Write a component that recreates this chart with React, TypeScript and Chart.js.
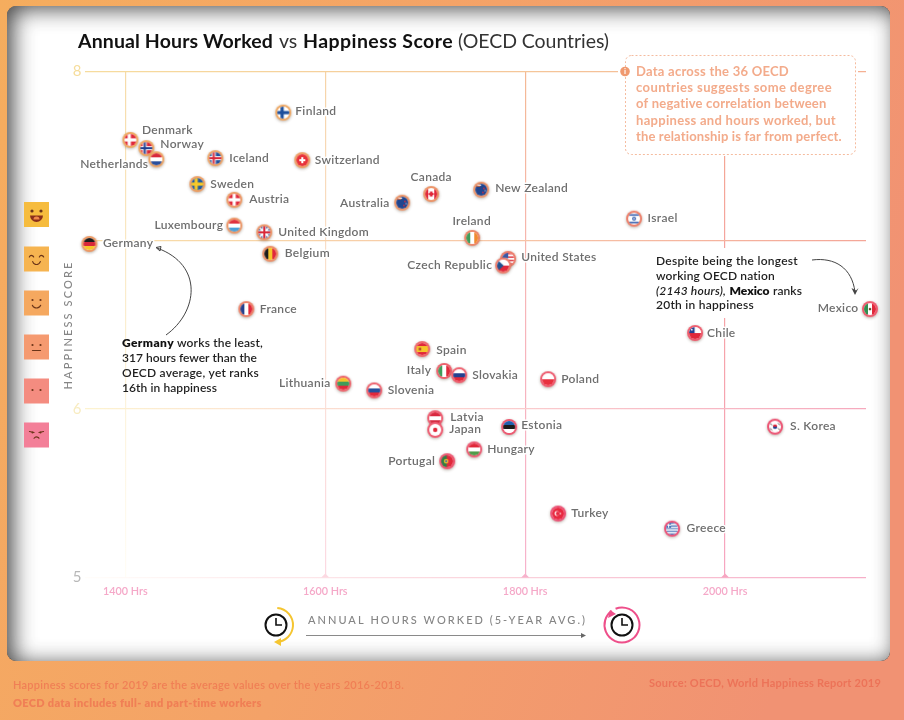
import React, { useEffect, useRef } from "react";
import { Chart, registerables } from "chart.js";

Chart.register(...registerables);

const countries = ["Finland","Denmark","Norway","Netherlands","Iceland","Switzerland","Sweden","Austria","Canada","Australia","New Zealand","Israel","Ireland","Luxembourg","United Kingdom","Germany","Belgium","United States","Czech Republic","France","Spain","Italy","Slovakia","Poland","Lithuania","Slovenia","Latvia","Japan","Estonia","Hungary","Portugal","S. Korea","Turkey","Greece","Mexico","Chile"];
const hoursWorked = [1558,1405,1421,1431,1490,1577,1472,1509,1706,1677,1756,1909,1747,1509,1539,1364,1545,1783,1778,1521,1697,1719,1734,1823,1618,1649,1710,1710,1784,1749,1722,2050,1833,1947,2145,1970];
const happiness = [7.757,7.595,7.546,7.48,7.487,7.475,7.333,7.24,7.274,7.223,7.3,7.128,7.014,7.087,7.047,6.978,6.92,6.89,6.85,6.592,6.355,6.225,6.2,6.176,6.15,6.11,5.945,5.876,5.893,5.76,5.69,5.895,5.38,5.29,6.592,6.45];
// label placement relative to the marker: [align, dx, dy]
const labelPlacement: [CanvasTextAlign, number, number][] = [
  ["left",12,-1],["left",11.5,-9.5],["left",14,-4],["right",-8,5],["left",14,0],["left",12.5,0],["left",13,0],["left",15,0],["center",0,-16.5],["right",-12.7,0.5],["left",14,-1],["left",13.5,0],["center",-0.5,-16],["right",-11,0],["left",14,0],["left",13.5,-0.5],["left",14.5,0],["left",13,-1],["right",-11,0],["left",13.5,0.5],["left",14,1],["right",-13,0],["left",13,0],["left",13,0],["right",-12.7,0],["left",13.5,0],["left",15,-1],["left",14,0],["left",12,-1.5],["left",13,0],["right",-12,0],["left",15,0],["left",13,0],["left",14.5,0],["right",-11.5,-1],["left",12,0]
];
const xTicks = [1400, 1600, 1800, 2000];
const yTicks = [5, 6, 7, 8];
const faceColors = ["#f6bc3e","#f6b450","#f5a85f","#f59a70","#f48c80","#f37f98"];
const faceCentres = [214.5, 259, 303, 347, 391, 435];
const calloutLines = ["Data across the 36 OECD","countries suggests some degree","of negative correlation between","happiness and hours worked, but","the relationship is far from perfect."];

const W = "#fff";
const flagSpec: Record<string, string[]> = {
  Finland:["nordic",W,"#1d4f9c"], Denmark:["nordic","#e0283a",W], Norway:["nordic2","#d8283a",W,"#1f3f8f"], Netherlands:["h","#d8283a",W,"#2a4f9c"], Iceland:["nordic2","#22509c",W,"#d8283a"], Switzerland:["swiss","#e8323a",W], Sweden:["nordic","#1f5a9f","#f7c92a"], Austria:["h2","#e0283a",W], Canada:["canada"], Australia:["aus"], "New Zealand":["aus"], Israel:["israel"], Ireland:["v","#3f9c5a",W,"#f08a30"], Luxembourg:["h","#e0333f",W,"#4aa0d8"], "United Kingdom":["uk"], Germany:["h","#1c1c1c","#d8283a","#f6c52a"], Belgium:["v","#1c1c1c","#f6c52a","#e0283a"], "United States":["us"], "Czech Republic":["czech"], France:["v","#23408f",W,"#e0283a"], Spain:["spain"], Italy:["v","#3f9c5a",W,"#e0283a"], Slovakia:["h",W,"#23408f","#e0283a"], Poland:["h2b",W,"#e8313f"], Lithuania:["h","#f6c12a","#3f9c5a","#e0283a"], Slovenia:["h",W,"#23509c","#e0283a"], Latvia:["h","#d8283f",W,"#d8283f"], Japan:["japan"], Estonia:["h","#1f5fae","#1c1c1c",W], Hungary:["h","#e0283a",W,"#4f9c4a"], Portugal:["portugal"], "S. Korea":["korea"], Turkey:["turkey"], Greece:["greece"], Mexico:["mexico"], Chile:["chile"],
};

function flagBody(c: CanvasRenderingContext2D, name: string, r: number) {
  const s = flagSpec[name];
  const kind = s[0];
  const fill = (col: string, x: number, y: number, w: number, h: number) => { c.fillStyle = col; c.fillRect(x, y, w, h); };
  const d = r * 2;
  const dot = (col: string, x: number, y: number, rr: number) => { c.fillStyle = col; c.beginPath(); c.arc(x, y, rr, 0, 7); c.fill(); };
  fill(W, -r, -r, d, d);
  if (kind === "h") { const h = d / 3; fill(s[1], -r, -r, d, h); fill(s[2], -r, -r + h, d, h); fill(s[3], -r, -r + 2 * h, d, h); }
  else if (kind === "v") { const w = d / 3; fill(s[1], -r, -r, w, d); fill(s[2], -r + w, -r, w, d); fill(s[3], -r + 2 * w, -r, w, d); }
  else if (kind === "h2") { fill(s[1], -r, -r, d, d); fill(s[2], -r, -1.6, d, 3.2); fill(s[2], -1.8, -r, 3.2, d); }
  else if (kind === "h2b") { fill(s[1], -r, -r, d, r); fill(s[2], -r, 0, d, r); }
  else if (kind === "nordic") { fill(s[1], -r, -r, d, d); fill(s[2], -r, -1.6, d, 3.2); fill(s[2], -2.8, -r, 3.2, d); }
  else if (kind === "nordic2") { fill(s[1], -r, -r, d, d); fill(s[2], -r, -2, d, 4); fill(s[2], -3.6, -r, 4, d); fill(s[3], -r, -1, d, 2); fill(s[3], -2.6, -r, 2, d); }
  else if (kind === "swiss") { fill(s[1], -r, -r, d, d); fill(s[2], -3, -1, 6, 2); fill(s[2], -1, -3, 2, 6); }
  else if (kind === "canada") { fill("#e0283a", -r, -r, 3, d); fill("#e0283a", r - 3, -r, 3, d); fill("#e0283a", -1.4, -2.5, 2.8, 5); fill("#e0283a", -2.5, -1, 5, 2); }
  else if (kind === "aus") { fill("#20458f", -r, -r, d, d); fill("#d8683a", -r, -r, 5, 3); fill(W, -r, -r + 1, 6, 1); fill("#e0283a", 2, -2, 1.5, 1.5); fill("#e0283a", 1, 2, 1.5, 1.5); fill(W, 3.5, 0.5, 1, 1); }
  else if (kind === "israel") { fill("#3a63b0", -r, -4.5, d, 1.6); fill("#3a63b0", -r, 3, d, 1.6); dot("#3a63b0", 0, 0, 2); dot(W, 0, 0, 0.8); }
  else if (kind === "uk") { fill("#27408f", -r, -r, d, d); c.strokeStyle = W; c.lineWidth = 2; c.beginPath(); c.moveTo(-r, -r); c.lineTo(r, r); c.moveTo(r, -r); c.lineTo(-r, r); c.stroke(); fill(W, -r, -1.8, d, 3.6); fill(W, -1.8, -r, 3.6, d); fill("#d8283a", -r, -1, d, 2); fill("#d8283a", -1, -r, 2, d); }
  else if (kind === "us") { for (let i = 0; i < 7; i++) fill(i % 2 ? W : "#e0404a", -r, -r + i * d / 7, d, d / 7); fill("#3a5aa8", -r, -r, r, r - 0.5); }
  else if (kind === "czech") { fill(W, -r, -r, d, r); fill("#e0283a", -r, 0, d, r); c.fillStyle = "#21508f"; c.beginPath(); c.moveTo(-r, -r); c.lineTo(0.5, 0); c.lineTo(-r, r); c.fill(); }
  else if (kind === "spain") { fill("#e0283a", -r, -r, d, d); fill("#f6c52a", -r, -3, d, 6); fill("#b3472a", -3.5, -1.4, 2.4, 2.8); }
  else if (kind === "japan") { dot("#e0283a", 0, 0, 2.2); }
  else if (kind === "portugal") { fill("#e0283a", -r, -r, d, d); fill("#2f7f44", -r, -r, 5.5, d); dot("#f6c52a", -1, 0, 2.3); dot("#3a63b0", -1, 0, 1.1); }
  else if (kind === "korea") { c.fillStyle = "#e0283a"; c.beginPath(); c.arc(0, 0, 2.2, Math.PI, 0); c.fill(); c.fillStyle = "#23408f"; c.beginPath(); c.arc(0, 0, 2.2, 0, Math.PI); c.fill(); c.strokeStyle = "#222"; c.lineWidth = 0.8; [[-4, -2.5], [4, -2.5], [-4, 2.5], [4, 2.5]].forEach(([x, y]) => { c.beginPath(); c.moveTo(x - 1, y - 1); c.lineTo(x + 1, y + 1); c.stroke(); }); }
  else if (kind === "turkey") { fill("#e8283f", -r, -r, d, d); dot(W, -1.2, 0, 2.4); dot("#e8283f", -0.4, 0, 1.9); fill(W, 1.5, -0.6, 1.4, 1.2); }
  else if (kind === "greece") { for (let i = 0; i < 9; i++) fill(i % 2 ? W : "#4a72b8", -r, -r + i * d / 9, d, d / 9); fill("#4a72b8", -r, -r, 5, 5); fill(W, -r + 2, -r, 1, 5); fill(W, -r, -r + 2, 5, 1); }
  else if (kind === "mexico") { const w = d / 3; fill("#2f8f50", -r, -r, w, d); fill("#e0283a", r - w, -r, w, d); dot("#6a4a2a", 0, 0, 1.3); }
  else if (kind === "chile") { fill(W, -r, -r, d, r); fill("#e0283a", -r, 0, d, r); fill("#23408f", -r, -r, 5.5, r); fill(W, -4, -4, 1.5, 1.5); }
}

function ringColor(h: number, s: number) {
  const t = Math.min(1, Math.max(0, (7.8 - s) / 2.5));
  const u = Math.min(1, Math.max(0, (h - 1360) / 780));
  const k = Math.min(1, t * 0.75 + u * 0.35);
  const stops = [[240, 176, 96], [236, 146, 104], [238, 92, 110], [236, 80, 120]];
  const p = k * 3; const i = Math.min(2, Math.floor(p)); const f = p - i;
  const mix = stops[i].map((v, j) => Math.round(v + (stops[i + 1][j] - v) * f));
  return `rgb(${mix.join(",")})`;
}

function makeMarker(i: number) {
  const cv = document.createElement("canvas");
  cv.width = 24; cv.height = 24;
  const c = cv.getContext("2d")!;
  c.translate(12, 12);
  c.save();
  c.shadowColor = "rgba(90,70,50,0.4)"; c.shadowBlur = 3; c.shadowOffsetY = 1;
  c.fillStyle = ringColor(hoursWorked[i], happiness[i]);
  c.beginPath(); c.arc(0, 0, 8, 0, 7); c.fill();
  c.restore();
  c.save();
  c.beginPath(); c.arc(0, 0, 6, 0, 7); c.clip();
  flagBody(c, countries[i], 6);
  c.restore();
  return cv;
}

const FF = 'Lato, "Open Sans", sans-serif';

function text(c: CanvasRenderingContext2D, s: string, x: number, y: number, font: string, color: string, width?: number, align: CanvasTextAlign = "left") {
  c.save();
  c.font = font; c.fillStyle = color; c.textAlign = align; c.textBaseline = "middle";
  if (width) { (c as any).letterSpacing = "0px"; const m = c.measureText(s).width; (c as any).letterSpacing = ((width - m) / s.length).toFixed(3) + "px"; }
  c.fillText(s, x, y + 0.8);
  c.restore();
}

function drawBackdrop(c: CanvasRenderingContext2D) {
  const g = c.createLinearGradient(0, 0, 904, 300);
  g.addColorStop(0, "#f5ad5e"); g.addColorStop(0.5, "#f4a268"); g.addColorStop(1, "#f19273");
  c.fillStyle = g; c.fillRect(0, 0, 904, 720);
  const px = 7, py = 6, pw = 883, ph = 655;
  c.save();
  c.beginPath(); c.roundRect(px, py, pw, ph, 9); c.fillStyle = "#fff"; c.fill();
  c.clip();
  c.shadowColor = "rgba(40,40,40,0.85)"; c.shadowBlur = 22; c.shadowOffsetX = 6; c.shadowOffsetY = 3;
  c.beginPath(); c.rect(-60, -60, 1024, 840); c.roundRect(px, py, pw, ph, 9);
  c.fillStyle = "#000"; c.fill("evenodd");
  c.restore();
}

function drawFace(c: CanvasRenderingContext2D, i: number, cy: number) {
  const cx = 36.5; const col = "#6b3418";
  c.fillStyle = faceColors[i]; c.fillRect(cx - 12.5, cy - 12.5, 25, 25);
  c.strokeStyle = col; c.fillStyle = col; c.lineWidth = 1.2; c.lineCap = "round";
  const eye = (x: number, y: number, r: number) => { c.beginPath(); c.arc(x, y, r, 0, 7); c.fill(); };
  if (i === 0) { eye(cx - 4.5, cy - 3.5, 1.6); eye(cx + 4.5, cy - 3.5, 1.6); c.fillStyle = "#8a2f1a"; c.beginPath(); c.arc(cx, cy + 1, 6.5, 0, Math.PI); c.fill(); c.fillStyle = "#f0884a"; c.beginPath(); c.arc(cx, cy + 5, 3, Math.PI, 0); c.fill(); }
  if (i === 1) { [-5, 5].forEach((d) => { c.beginPath(); c.arc(cx + d, cy - 1, 2.4, Math.PI * 1.15, Math.PI * 1.85); c.stroke(); }); c.beginPath(); c.arc(cx, cy + 1.5, 4, 0.3, Math.PI - 0.3); c.stroke(); }
  if (i === 2) { eye(cx - 4, cy - 3, 1.1); eye(cx + 4, cy - 3, 1.1); c.beginPath(); c.arc(cx, cy + 0.5, 4.5, 0.4, Math.PI - 0.4); c.stroke(); }
  if (i === 3) { eye(cx - 4, cy - 2, 1.1); eye(cx + 4, cy - 2, 1.1); c.beginPath(); c.moveTo(cx - 4, cy + 3.5); c.lineTo(cx + 4, cy + 3.5); c.stroke(); }
  if (i === 4) { eye(cx - 4, cy - 1, 1.1); eye(cx + 4, cy - 1, 1.1); }
  if (i === 5) { c.beginPath(); c.moveTo(cx - 7, cy - 3.5); c.lineTo(cx - 2.5, cy - 2.5); c.moveTo(cx + 7, cy - 3.5); c.lineTo(cx + 2.5, cy - 2.5); c.stroke(); eye(cx - 4, cy - 2.5, 1); eye(cx + 4, cy - 2.5, 1); c.beginPath(); c.arc(cx, cy + 5, 3, Math.PI * 1.2, Math.PI * 1.8); c.stroke(); }
  c.lineCap = "butt";
}

function drawClock(c: CanvasRenderingContext2D, x: number, y: number) {
  c.strokeStyle = "#111"; c.lineWidth = 2; c.beginPath(); c.arc(x, y, 10.5, 0, 7); c.stroke();
  c.lineWidth = 1.6; c.beginPath(); c.moveTo(x, y - 7); c.lineTo(x, y); c.lineTo(x + 6, y); c.stroke();
}

function drawAnnotations(c: CanvasRenderingContext2D) {
  c.fillStyle = "#fff"; c.fillRect(618, 54, 240, 102);
  c.fillStyle = "#fff"; c.fillRect(650, 248, 180, 70);
  c.save();
  c.strokeStyle = "#f5bb9e"; c.lineWidth = 1; c.setLineDash([2, 2]);
  c.beginPath(); c.roundRect(625.5, 55.5, 230, 99, 6); c.stroke();
  c.restore();
  c.fillStyle = "#f09a70"; c.beginPath(); c.arc(625, 71.5, 4.8, 0, 7); c.fill();
  text(c, "i", 625, 71, `bold 8px ${FF}`, "#fff", undefined, "center");
  const ws = [153, 196, 191, 200, 206];
  calloutLines.forEach((l, i) => text(c, l, 636, 71 + i * 16.2, `700 13px ${FF}`, "#f3ab8b", ws[i]));
  const dark = "#1f1f1f"; const f = `600 12px ${FF}`; const fb = `800 12px ${FF}`;
  text(c, "Germany", 122, 342, fb, "#111", 52);
  text(c, "works the least,", 177, 342, f, dark, 86);
  text(c, "317 hours fewer than the", 122, 357, f, dark, 135);
  text(c, "OECD average, yet ranks", 122, 372, f, dark, 137);
  text(c, "16th in happiness", 122, 387, f, dark, 95);
  text(c, "Despite being the longest", 656, 260, f, dark, 142);
  text(c, "working OECD nation", 656, 275, f, dark, 119);
  text(c, "(2143 hours),", 656, 290, `italic 600 12px ${FF}`, dark, 70);
  text(c, "Mexico", 729.5, 290, fb, "#111", 40);
  text(c, "ranks", 773, 290, f, dark, 29);
  text(c, "20th in happiness", 656, 304, f, dark, 98);
  c.strokeStyle = "#444"; c.lineWidth = 1;
  c.beginPath(); c.moveTo(166, 335); c.bezierCurveTo(198, 312, 204, 265, 157, 248); c.stroke();
  c.beginPath(); c.moveTo(156, 247.5); c.lineTo(161, 246.5); c.lineTo(160, 251); c.closePath(); c.stroke();
  c.beginPath(); c.moveTo(812, 260); c.bezierCurveTo(835, 257, 852, 268, 855, 292); c.stroke();
  c.fillStyle = "#444"; c.beginPath(); c.moveTo(855, 295); c.lineTo(851.5, 288); c.lineTo(856, 290.5); c.lineTo(858.5, 288); c.closePath(); c.fill();
}

function drawChrome(c: CanvasRenderingContext2D) {
  const tb = `700 19.5px ${FF}`; const tl = `400 19.5px ${FF}`;
  text(c, "Annual Hours Worked", 78, 41, tb, "#111", 195);
  text(c, "vs", 279, 41, tl, "#333", 18);
  text(c, "Happiness Score", 303, 41, tb, "#111", 150);
  text(c, "(OECD Countries)", 458, 41, tl, "#333", 151);
  c.save(); c.translate(68, 325); c.rotate(-Math.PI / 2);
  text(c, "HAPPINESS SCORE", 0, 0, `500 11px ${FF}`, "#858585", 129, "center");
  c.restore();
  faceCentres.forEach((y, i) => drawFace(c, i, y));
  text(c, "ANNUAL HOURS WORKED (5-YEAR AVG.)", 308, 620, `500 11px ${FF}`, "#858585", 279);
  c.strokeStyle = "#8a8a8a"; c.lineWidth = 1; c.beginPath(); c.moveTo(306, 635.5); c.lineTo(582, 635.5); c.stroke();
  c.fillStyle = "#666"; c.beginPath(); c.moveTo(586, 635.5); c.lineTo(581, 633); c.lineTo(581, 638); c.closePath(); c.fill();
  drawClock(c, 276, 625);
  c.strokeStyle = "#f5c530"; c.lineWidth = 2; c.beginPath(); c.arc(276, 625, 17, -Math.PI / 2.1, Math.PI / 2.1); c.stroke();
  c.fillStyle = "#f5c530"; c.beginPath(); c.moveTo(274, 642); c.lineTo(281, 638); c.lineTo(281, 646); c.closePath(); c.fill();
  drawClock(c, 622, 625);
  c.strokeStyle = "#ee4f8a"; c.lineWidth = 2; c.beginPath(); c.arc(622, 625, 17.5, -Math.PI * 0.62, Math.PI * 1.3); c.stroke();
  c.fillStyle = "#ee4f8a"; c.beginPath(); c.moveTo(610, 610); c.lineTo(608, 618); c.lineTo(616, 614); c.closePath(); c.fill();
  text(c, "Happiness scores for 2019 are the average values over the years 2016-2018.", 13, 685, `600 11px ${FF}`, "#f07f55", 391);
  text(c, "OECD data includes full- and part-time workers", 13, 703, `800 11px ${FF}`, "#f07f55", 249);
  text(c, "Source: OECD, World Happiness Report 2019", 649, 683, `700 11px ${FF}`, "#ec7358", 232);
}

const hLine: Record<number, string[]> = { 8: ["#f6dc9e", "#f5c99a", "#f5b092"], 7: ["#f8dfa8", "#f7c8a8", "#f4a698"], 6: ["#fdf3d0", "#fbd0cf", "#f6a9bd"], 5: ["#fffdfa", "#fbd5dd", "#f6aec8"] };
const vLine: Record<number, string[]> = { 1400: ["#f6dba8", "#fbeed0", "#fffdf6"], 1600: ["#f6d3a6", "#fae3d6", "#fcd9e2"], 1800: ["#f4b994", "#f7b4ba", "#f7b2cc"], 2000: ["#f3a88b", "#f6a3a8", "#f7a6c2"] };

export default function App() {
  const ref = useRef<HTMLCanvasElement>(null);
  useEffect(() => {
    const markers = countries.map((_, i) => makeMarker(i));
    const gridGradient = (chart: any, stops: string[], horizontal: boolean) => {
      const a = chart.chartArea;
      if (!a) return stops[0];
      const g = horizontal ? chart.ctx.createLinearGradient(a.left, 0, a.right, 0) : chart.ctx.createLinearGradient(0, a.top, 0, a.bottom);
      stops.forEach((s, i) => g.addColorStop(i / (stops.length - 1), s));
      return g;
    };
    const decor = {
      id: "decor",
      beforeDraw(chart: any) { drawBackdrop(chart.ctx); },
      beforeDatasetsDraw(chart: any) {
        const c = chart.ctx;
        c.save();
        [1600, 1800, 2000].forEach((v) => {
          const x = chart.scales.x.getPixelForValue(v); const y = chart.scales.y.getPixelForValue(5);
          c.fillStyle = vLine[v][2]; c.beginPath(); c.moveTo(x - 4, y); c.lineTo(x, y - 4); c.lineTo(x + 4, y); c.closePath(); c.fill();
        });
        drawAnnotations(c);
        drawChrome(c);
        const pts = chart.getDatasetMeta(0).data;
        countries.forEach((name, i) => {
          const [align, dx, dy] = labelPlacement[i];
          c.font = `600 12px ${FF}`; c.textAlign = align; c.textBaseline = "middle";
          (c as any).letterSpacing = "0.3px";
          c.strokeStyle = "rgba(255,255,255,0.95)"; c.lineWidth = 3; c.lineJoin = "round";
          c.strokeText(name, pts[i].x + dx, pts[i].y + dy - 0.4);
          c.fillStyle = "#6e6e6e";
          c.fillText(name, pts[i].x + dx, pts[i].y + dy - 0.4);
        });
        (c as any).letterSpacing = "0px";
        c.restore();
      },
    };
    const chart = new Chart(ref.current!, {
      type: "scatter",
      data: {
        labels: countries,
        datasets: [{
          data: hoursWorked.map((x, i) => ({ x, y: happiness[i] })),
          pointStyle: markers as any,
          pointRadius: 10,
          showLine: false,
          clip: false as any,
        }],
      },
      plugins: [decor],
      options: {
        responsive: false,
        animation: false,
        layout: { padding: { top: 71.6, right: 38, left: 0, bottom: 0 } },
        plugins: { legend: { display: false }, tooltip: { enabled: false }, title: { display: false } },
        scales: {
          x: {
            type: "linear", min: 1360, max: 2141,
            afterBuildTicks: (s: any) => { s.ticks = xTicks.map((value) => ({ value })); },
            afterFit: (s: any) => { s.height = 142.4; },
            border: { display: false },
            grid: { drawTicks: false, lineWidth: 1.2, color: (ctx: any) => gridGradient(ctx.chart, vLine[ctx.tick?.value] || vLine[1400], false) },
            ticks: { autoSkip: false, maxRotation: 0, padding: 7, color: "#f5a8c8", font: { family: FF, size: 10.8, weight: 600 as any }, callback: (v: any) => `${v} Hrs` },
          },
          y: {
            type: "linear", min: 5, max: 8,
            afterBuildTicks: (s: any) => { s.ticks = yTicks.map((value) => ({ value })); },
            afterFit: (s: any) => { s.width = 85.4; },
            border: { display: false },
            grid: { drawTicks: false, lineWidth: 1.2, color: (ctx: any) => gridGradient(ctx.chart, hLine[ctx.tick?.value] || hLine[8], true) },
            ticks: {
              padding: 4,
              color: (ctx: any) => ({ 8: "#f6dd9c", 6: "#f8ecc0", 5: "#b8b8b8" } as any)[ctx.tick?.value] || "#fff",
              font: { family: FF, size: 15 },
              callback: (v: any) => (v === 7 ? "" : `${v}`),
            },
          },
        },
      },
    });
    return () => chart.destroy();
  }, []);
  return (
    <div style={{ position: "absolute", left: 0, top: 0, width: 904, height: 720, overflow: "hidden" }}>
      <canvas ref={ref} width={904} height={720} style={{ display: "block", filter: "blur(0.55px)" }} />
    </div>
  );
}
